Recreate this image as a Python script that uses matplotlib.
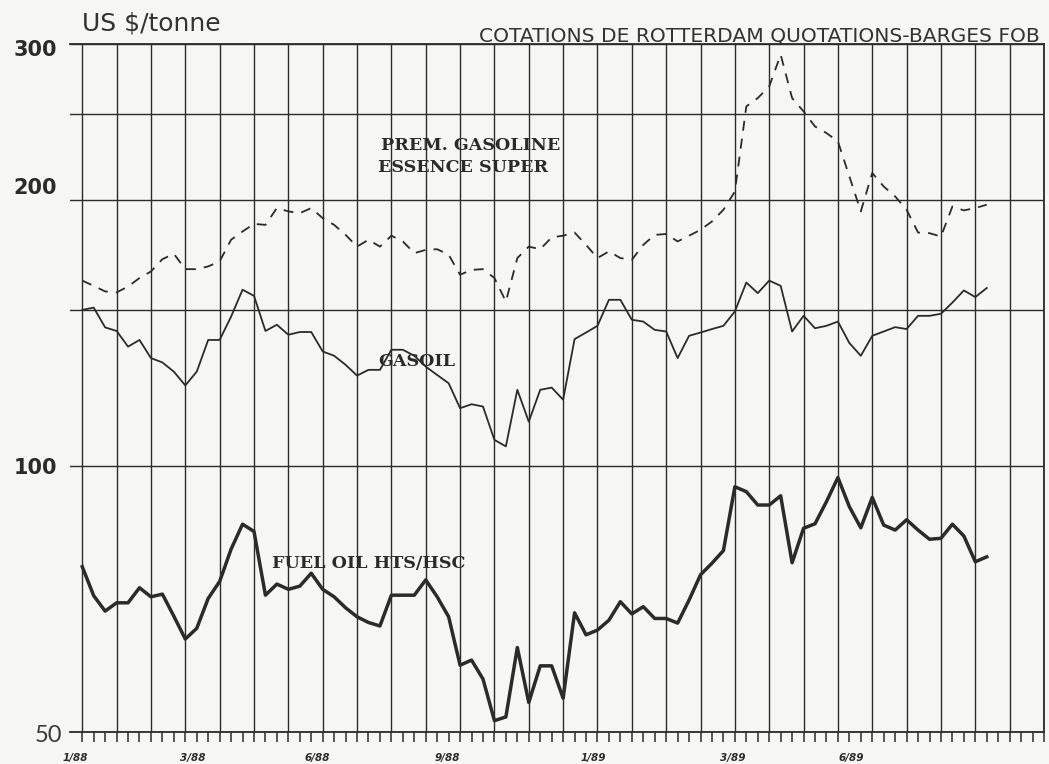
import matplotlib.pyplot as plt
import numpy as np


# Weekly Rotterdam barge quotations, US $/tonne (week 0 = first week of 1988)
gasoline = [162.0, 159.8, 157.5, 157.1, 159.5, 163.1, 165.9, 171.3, 173.7, 166.9,
            166.9, 168.1, 170.3, 180.2, 184.1, 187.8, 187.3, 195.7, 194.0, 193.1,
            195.7, 190.6, 187.3, 182.5, 177.0, 180.2, 177.0, 182.1, 179.4, 174.0,
            175.5, 175.8, 173.3, 164.5, 166.6, 166.9, 163.1, 153.4, 171.8, 177.0,
            175.8, 181.3, 182.1, 183.6, 177.8, 171.8, 174.8, 171.8, 171.0, 177.8,
            182.5, 182.9, 179.4, 182.1, 184.9, 189.0, 194.8, 204.3, 255.0, 260.6,
            268.6, 291.8, 260.6, 251.7, 242.0, 237.9, 232.8, 212.5, 194.0, 214.4,
            207.0, 201.7, 194.8, 183.6, 183.3, 181.7, 196.5, 194.5, 195.7, 197.4]

gasoil = [150.1, 151.0, 143.4, 142.1, 136.4, 138.8, 132.4, 130.9, 127.8, 123.3,
          127.8, 138.8, 138.8, 147.5, 158.2, 155.7, 142.1, 144.4, 140.7, 141.7,
          141.7, 134.7, 133.2, 130.1, 126.5, 128.4, 128.4, 135.3, 135.3, 133.2,
          129.5, 126.7, 124.0, 116.2, 117.4, 116.7, 107.0, 105.2, 121.9, 112.2,
          121.9, 122.6, 118.8, 139.1, 141.5, 144.0, 154.1, 154.1, 146.3, 145.6,
          142.5, 141.9, 132.4, 140.3, 141.5, 142.8, 144.0, 149.5, 161.2, 156.8,
          162.0, 159.8, 141.9, 147.8, 143.1, 144.0, 145.6, 137.7, 133.2, 140.3,
          141.9, 143.5, 142.8, 147.8, 147.8, 148.6, 153.0, 157.9, 155.2, 158.9]

fuel_oil = [76.9, 71.3, 68.5, 70.0, 70.0, 72.8, 71.1, 71.6, 67.6, 63.7,
            65.5, 70.8, 74.0, 80.5, 85.9, 84.3, 71.4, 73.5, 72.5, 73.1,
            75.6, 72.5, 71.1, 69.1, 67.5, 66.5, 65.9, 71.4, 71.4, 71.4,
            74.3, 71.1, 67.5, 59.5, 60.3, 57.4, 51.5, 52.0, 62.3, 54.0,
            59.4, 59.4, 54.6, 68.2, 64.4, 65.2, 66.9, 70.2, 68.0, 69.3,
            67.2, 67.2, 66.4, 70.5, 75.3, 77.6, 80.2, 94.7, 93.5, 90.3,
            90.3, 92.5, 77.7, 85.0, 86.0, 91.1, 97.0, 89.9, 85.1, 92.1,
            85.7, 84.6, 86.9, 84.6, 82.6, 82.8, 85.9, 83.3, 77.9, 78.9]

weeks = np.arange(len(gasoil))

y_labels = [300, 200, 100, 50]
y_grid = [50, 100, 150, 200, 250, 300]

x_labels = ['1/88', '3/88', '6/88', '9/88', '1/89', '3/89', '6/89']
x_label_pos = [-0.57, 9.68, 20.5, 31.9, 44.6, 56.8, 67.2]

ink = '#2b2b2b'
paper = '#f6f6f4'

fig = plt.figure(figsize=(10.49, 7.64), dpi=100, facecolor=paper)
ax = fig.add_axes([70 / 1049, 32 / 764, 974 / 1049, 688 / 764])
ax.set_facecolor(paper)

# Series
ax.plot(weeks, gasoline, color=ink, lw=1.3, dashes=[5.5, 4.5])
ax.plot(weeks, gasoil, color=ink, lw=1.3)
ax.plot(weeks, fuel_oil, color=ink, lw=2.5)

# Log scale, grid
ax.set_yscale('log')
ax.set_ylim(50, 300)
ax.set_xlim(-1.07, 84)
ax.set_yticks(y_grid)
ax.yaxis.set_minor_locator(plt.NullLocator())
ax.set_yticklabels([])
ax.tick_params(axis='y', length=0)
ax.set_xticks(np.arange(0, 85, 3))
ax.set_xticks(np.arange(0, 85, 1), minor=True)
ax.set_xticklabels([])
ax.tick_params(axis='x', which='both', direction='out', length=7.2, width=1.1, color=ink)
ax.grid(True, which='major', color=ink, lw=1.0)
ax.set_axisbelow(True)

ax.spines['left'].set_visible(False)
for side in ['top', 'right', 'bottom']:
    ax.spines[side].set_color(ink)
    ax.spines[side].set_linewidth(1.3)

# Y labels
offsets = {300: (-13, -6), 200: (-13, 12), 100: (-13, -2), 50: (-8, -3)}
for v in y_labels:
    dx, dy = offsets[v]
    if v == 50:
        kw = dict(fontsize=17, color='#3a3a3a', family='Lato')
    else:
        kw = dict(fontsize=15, fontweight='bold', color=ink, family='DejaVu Sans')
    ax.annotate(str(v), xy=(0, v), xycoords=('axes fraction', 'data'),
                xytext=(dx * 0.72, dy * 0.72), textcoords='offset points',
                ha='right', va='center', **kw)

# X labels
for lab, pos in zip(x_labels, x_label_pos):
    ax.annotate(lab, xy=(pos, 0), xycoords=('data', 'axes fraction'),
                xytext=(0, -26 * 0.72), textcoords='offset points',
                ha='center', va='center', fontsize=7.5, fontweight='bold',
                style='italic', color=ink)

# Titles
fig.text(82 / 1049, 1 - 30 / 764, 'US $/tonne', fontsize=18, family='DejaVu Sans',
         color='#333333', va='baseline', ha='left')
fig.text(1040 / 1049, 1 - 41 / 764, 'COTATIONS DE ROTTERDAM QUOTATIONS-BARGES FOB',
         fontsize=14.6, family='DejaVu Sans', color='#333333', va='baseline', ha='right')

# Series labels
lab_kw = dict(fontsize=12.6, fontweight='bold', family='DejaVu Serif', color=ink,
              ha='left', va='center')
fig.text(381 / 1049, 1 - 145 / 764, 'PREM. GASOLINE', **lab_kw)
fig.text(378 / 1049, 1 - 167 / 764, 'ESSENCE SUPER', **lab_kw)
fig.text(378 / 1049, 1 - 361 / 764, 'GASOIL', **lab_kw)
fig.text(272 / 1049, 1 - 564 / 764, 'FUEL OIL HTS/HSC', **lab_kw)

fig.savefig('out.png', dpi=100, facecolor=paper)
